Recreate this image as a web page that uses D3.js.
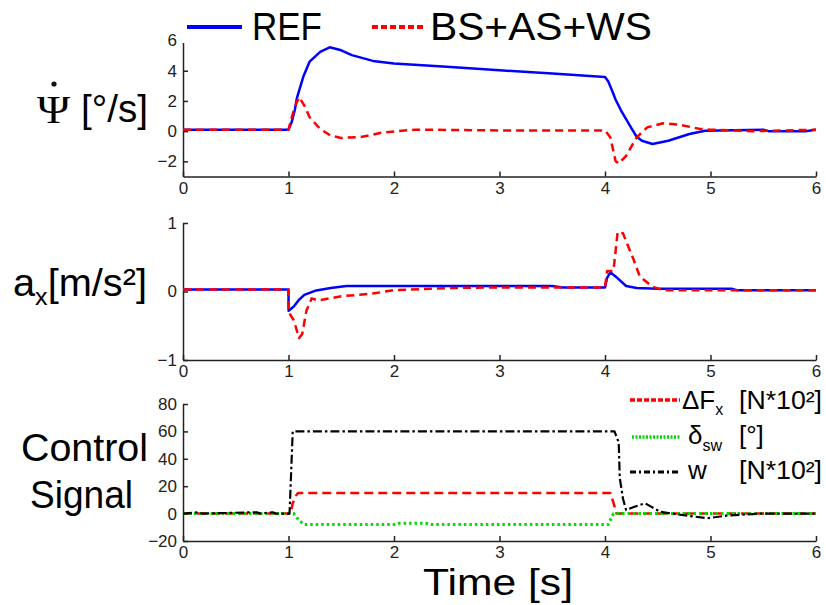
<!DOCTYPE html>
<html>
<head>
<meta charset="utf-8">
<script src="https://cdn.jsdelivr.net/npm/d3@7/dist/d3.min.js"></script>
<style>
  html, body { margin: 0; padding: 0; background: #fff; }
  svg { display: block; }
  .tick text { font-family: "Liberation Sans", Arial, sans-serif; font-size: 17px; fill: #222; }
</style>
</head>
<body>
<svg id="chart" width="826" height="605"></svg>
<script>
// ---------------- data ----------------
const xTicks = [0, 1, 2, 3, 4, 5, 6];
const psiTicks = [-2, 0, 2, 4, 6];
const axTicks = [-1, 0, 1];
const ctrlTicks = [-20, 0, 20, 40, 60, 80];

const seriesNames = ["REF", "BS+AS+WS"];

// yaw rate [deg/s]
const tPsiRef = [0, 1.0, 1.03, 1.06, 1.08, 1.14, 1.2, 1.3, 1.39, 1.5, 1.6, 1.8, 2.0, 2.5, 3.0, 3.5, 4.0, 4.03, 4.06, 4.1, 4.15, 4.2, 4.25, 4.3, 4.35, 4.45, 4.6, 4.8, 4.95, 5.5, 5.55, 5.9, 6.0];
const psiRef  = [0.1, 0.1, 0.6, 1.4, 2.2, 3.6, 4.6, 5.25, 5.55, 5.35, 5.03, 4.65, 4.48, 4.26, 4.03, 3.81, 3.59, 3.3, 2.8, 2.1, 1.4, 0.8, 0.2, -0.37, -0.63, -0.85, -0.63, -0.19, 0.03, 0.1, 0.0, 0.0, 0.1];
const tPsiBs  = [0, 1.0, 1.03, 1.06, 1.1, 1.15, 1.2, 1.3, 1.4, 1.5, 1.7, 1.9, 2.2, 3.0, 4.0, 4.05, 4.1, 4.13, 4.2, 4.3, 4.4, 4.55, 4.7, 4.9, 5.0, 5.4, 6.0];
const psiBs   = [0.1, 0.1, 0.9, 1.6, 2.25, 1.7, 0.92, 0.15, -0.3, -0.45, -0.37, -0.08, 0.1, 0.05, 0.05, -0.4, -1.97, -2.15, -1.63, -0.41, 0.25, 0.52, 0.43, 0.15, 0.1, 0.0, 0.1];

// longitudinal acceleration [m/s^2]
const tAxRef = [0, 1.0, 1.001, 1.05, 1.1, 1.15, 1.25, 1.4, 1.55, 3.5, 3.6, 4.0, 4.02, 4.05, 4.1, 4.2, 4.3, 4.5, 5.2, 5.25, 6.0];
const axRef  = [0.03, 0.03, -0.28, -0.22, -0.12, -0.05, 0.01, 0.05, 0.08, 0.08, 0.06, 0.06, 0.2, 0.28, 0.22, 0.08, 0.05, 0.04, 0.04, 0.02, 0.02];
const tAxBs  = [0, 1.0, 1.001, 1.05, 1.1, 1.13, 1.17, 1.22, 1.28, 1.5, 1.8, 2.0, 2.5, 3.0, 4.0, 4.02, 4.08, 4.12, 4.17, 4.27, 4.33, 4.45, 4.55, 6.0];
const axBs   = [0.03, 0.03, -0.3, -0.42, -0.68, -0.62, -0.28, -0.1, -0.13, -0.07, -0.03, 0.02, 0.05, 0.06, 0.06, 0.3, 0.3, 0.87, 0.85, 0.47, 0.22, 0.07, 0.02, 0.02];

// control signals
const tDFx = [0, 1.02, 1.04, 1.07, 1.09, 4.05, 4.08, 4.11, 6.0];
const dFx  = [0, 0, 7.5, 13, 15, 15, 8, 0, 0];
const tDsw = [0, 1.05, 1.1, 1.15, 2.0, 2.05, 2.3, 2.35, 4.03, 4.08, 6.0];
const dsw  = [0, 0, -5, -8, -8, -7, -7, -8, -8, 0, 0];
const tW   = [0, 0.15, 0.18, 0.7, 0.73, 0.85, 0.88, 1.01, 1.04, 4.09, 4.13, 4.14, 4.17, 4.2, 4.28, 4.38, 4.52, 4.68, 4.97, 5.15, 5.47, 6.0];
const wSig = [0, 1, 0, 1, 0, 1, 0, 0, 60, 60, 52, 26, 11, 2.6, 5, 7.5, 1.4, -0.5, -3.4, -1.5, 0, 0];

// ---------------- drawing ----------------
const svg = d3.select("#chart");
const FONT = '"Liberation Sans", Arial, sans-serif';
const SERIF = '"Liberation Serif", "Times New Roman", serif';
const BLUE = "#0000ff", RED = "#ff0000", GREEN = "#00dd00", BLACK = "#000";

const x = d3.scaleLinear().domain([0, 6]).range([183, 816]);
const yPsi = d3.scaleLinear().domain([-3, 6]).range([176.5, 40.5]);
const yAx = d3.scaleLinear().domain([-1, 1]).range([360, 223]);
const yCtrl = d3.scaleLinear().domain([-20, 80]).range([541, 404]);

function zip(t, v) { return t.map((d, i) => [d, v[i]]); }

function drawAxes(y, yticks) {
  const g = svg.append("g");
  const xa = g.append("g").attr("transform", `translate(0,${y.range()[0]})`)
    .call(d3.axisBottom(x).tickValues(xTicks).tickSizeInner(-5).tickSizeOuter(0).tickPadding(5).tickFormat(d3.format("d")));
  const ya = g.append("g").attr("transform", `translate(${x.range()[0]},0)`)
    .call(d3.axisLeft(y).tickValues(yticks).tickSizeInner(-5).tickSizeOuter(0).tickPadding(6).tickFormat(d3.format("d")));
  [xa, ya].forEach(a => {
    a.selectAll("path.domain").attr("stroke", "#222").attr("stroke-width", 1.5);
    a.selectAll(".tick line").attr("stroke", "#222").attr("stroke-width", 1.5);
  });
  return g;
}

drawAxes(yPsi, psiTicks);
drawAxes(yAx, axTicks);
drawAxes(yCtrl, ctrlTicks);

function drawLine(t, v, y, color, width, dash) {
  const line = d3.line().x(d => x(d[0])).y(d => y(d[1])).curve(d3.curveLinear);
  svg.append("path").datum(zip(t, v))
    .attr("d", line).attr("fill", "none")
    .attr("stroke", color).attr("stroke-width", width)
    .attr("stroke-dasharray", dash || null)
    .attr("stroke-linejoin", "round");
}

drawLine(tPsiRef, psiRef, yPsi, BLUE, 2.5);
drawLine(tPsiBs, psiBs, yPsi, RED, 2.5, "8,5");
drawLine(tAxRef, axRef, yAx, BLUE, 2.5);
drawLine(tAxBs, axBs, yAx, RED, 2.5, "8,5");
drawLine(tDFx, dFx, yCtrl, RED, 2.5, "9,5");
drawLine(tDsw, dsw, yCtrl, GREEN, 3, "2.5,3");
drawLine(tW, wSig, yCtrl, BLACK, 2.2, "9,3,2.5,3");

// ---------------- top legend ----------------
svg.append("rect").attr("x", 180).attr("y", 0).attr("width", 490).attr("height", 43).attr("fill", "#fff");
svg.append("line").attr("x1", 187).attr("x2", 242).attr("y1", 27).attr("y2", 27)
  .attr("stroke", BLUE).attr("stroke-width", 4);
svg.append("text").attr("x", 252).attr("y", 40).text(seriesNames[0])
  .attr("font-family", FONT).attr("font-size", 38).attr("textLength", 70).attr("lengthAdjust", "spacingAndGlyphs");
svg.append("line").attr("x1", 372).attr("x2", 424).attr("y1", 27).attr("y2", 27)
  .attr("stroke", RED).attr("stroke-width", 4).attr("stroke-dasharray", "6,3");
svg.append("text").attr("x", 430).attr("y", 40).text(seriesNames[1])
  .attr("font-family", FONT).attr("font-size", 38).attr("textLength", 222).attr("lengthAdjust", "spacingAndGlyphs");

// ---------------- y labels ----------------
svg.append("text").attr("x", 37).attr("y", 123).text("Ψ")
  .attr("font-family", SERIF).attr("font-size", 40).attr("textLength", 33).attr("lengthAdjust", "spacingAndGlyphs");
svg.append("circle").attr("cx", 54).attr("cy", 84).attr("r", 2.6).attr("fill", "#111");
svg.append("text").attr("x", 81).attr("y", 122).text("[°/s]")
  .attr("font-family", FONT).attr("font-size", 39).attr("textLength", 67).attr("lengthAdjust", "spacingAndGlyphs");

const axLab = svg.append("text").attr("x", 13).attr("y", 296)
  .attr("font-family", FONT).attr("font-size", 38).attr("textLength", 134).attr("lengthAdjust", "spacingAndGlyphs");
axLab.append("tspan").text("a");
axLab.append("tspan").attr("font-size", 24).attr("dy", 9).text("x");
axLab.append("tspan").attr("dy", -9).text("[m/s²]");

svg.append("text").attr("x", 21).attr("y", 461).text("Control")
  .attr("font-family", FONT).attr("font-size", 38).attr("textLength", 127).attr("lengthAdjust", "spacingAndGlyphs");
svg.append("text").attr("x", 30).attr("y", 508).text("Signal")
  .attr("font-family", FONT).attr("font-size", 38).attr("textLength", 103).attr("lengthAdjust", "spacingAndGlyphs");

svg.append("text").attr("x", 423).attr("y", 595).text("Time [s]")
  .attr("font-family", FONT).attr("font-size", 37).attr("textLength", 150).attr("lengthAdjust", "spacingAndGlyphs");

// ---------------- control legend ----------------
svg.append("rect").attr("x", 627).attr("y", 386).attr("width", 199).attr("height", 100).attr("fill", "#fff");
const lg = svg.append("g").attr("font-family", FONT).attr("font-size", 26);
lg.append("line").attr("x1", 630).attr("x2", 680).attr("y1", 400).attr("y2", 400)
  .attr("stroke", RED).attr("stroke-width", 3.5).attr("stroke-dasharray", "5,2");
const t1 = lg.append("text").attr("x", 682).attr("y", 409);
t1.append("tspan").text("ΔF");
t1.append("tspan").attr("font-size", 16).attr("dy", 6).text("x");
lg.append("text").attr("x", 739).attr("y", 409).text("[N*10²]")
  .attr("textLength", 83).attr("lengthAdjust", "spacingAndGlyphs");

lg.append("line").attr("x1", 632).attr("x2", 680).attr("y1", 437).attr("y2", 437)
  .attr("stroke", GREEN).attr("stroke-width", 3.5).attr("stroke-dasharray", "2,1.5");
const t2 = lg.append("text").attr("x", 688).attr("y", 444);
t2.append("tspan").text("δ");
t2.append("tspan").attr("font-size", 16).attr("dy", 7).text("sw");
lg.append("text").attr("x", 739).attr("y", 444).text("[°]");

lg.append("line").attr("x1", 630).attr("x2", 680).attr("y1", 472).attr("y2", 472)
  .attr("stroke", BLACK).attr("stroke-width", 3).attr("stroke-dasharray", "6,3,2,3");
lg.append("text").attr("x", 688).attr("y", 479).text("w");
lg.append("text").attr("x", 739).attr("y", 479).text("[N*10²]")
  .attr("textLength", 83).attr("lengthAdjust", "spacingAndGlyphs");
</script>
</body>
</html>
